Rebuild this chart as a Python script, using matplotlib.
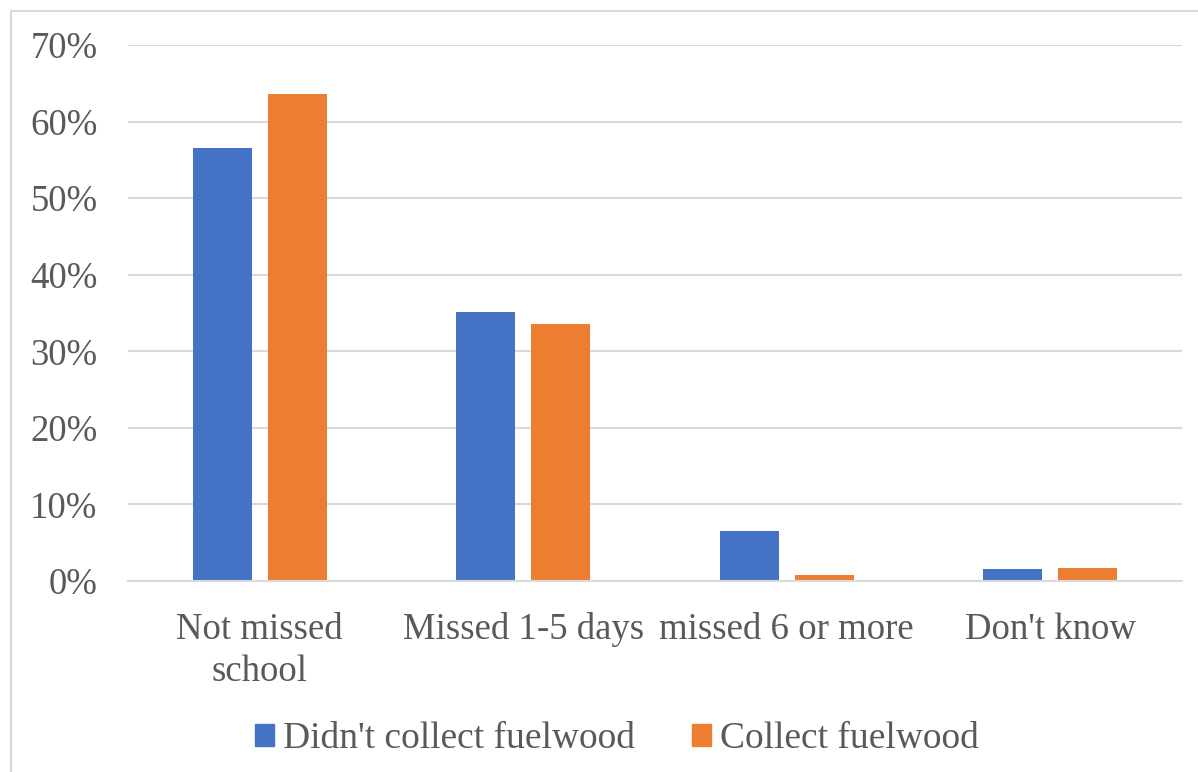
import matplotlib
matplotlib.use("Agg")
import matplotlib.pyplot as plt
import matplotlib.patches as mpatches
import numpy as np

# Data
categories = ["Not missed\nschool", "Missed 1-5 days", "missed 6 or more", "Don't know"]
didnt_collect = [56.5, 35.1, 6.5, 1.57]
collect = [63.6, 33.6, 0.75, 1.7]
series_names = ["Didn't collect fuelwood", "Collect fuelwood"]
yticks = [0, 10, 20, 30, 40, 50, 60, 70]

blue = "#4472C4"
orange = "#ED7D31"
txt = "#595959"
grid = "#D9D9D9"

plt.rcParams["font.family"] = ["Liberation Serif", "DejaVu Serif"]

W, H = 1198, 772
fig = plt.figure(figsize=(W / 100, H / 100), dpi=100)

# light chart frame
fig.patches.append(mpatches.Rectangle((11 / W, -0.1), 1.2, 1 - 11 / H + 0.1,
                                      transform=fig.transFigure, fill=False,
                                      edgecolor=grid, linewidth=1.5))

ax = fig.add_axes([128 / W, (H - 581) / H, 1054 / W, 536 / H])

x = np.arange(len(categories))
bw = 0.224
off = 0.142
ax.bar(x - off, didnt_collect, bw, color=blue, zorder=3)
ax.bar(x + off, collect, bw, color=orange, zorder=3)

ax.set_xlim(-0.5, len(categories) - 0.5)
ax.set_ylim(0, 70)
ax.set_yticks(yticks)
ax.set_yticklabels([f"{v}%" for v in yticks])
ax.set_xticks(x)
ax.set_xticklabels(categories, linespacing=1.3)

ax.yaxis.grid(True, color=grid, linewidth=1.5, zorder=0)
ax.set_axisbelow(True)
for s in ["top", "right", "left"]:
    ax.spines[s].set_visible(False)
ax.spines["bottom"].set_color(grid)
ax.spines["bottom"].set_linewidth(1.5)
ax.spines["bottom"].set_zorder(4)

ax.tick_params(axis="y", length=0, pad=22, labelsize=26.5, labelcolor=txt)
ax.tick_params(axis="x", length=0, pad=22.5, labelsize=26.5, labelcolor=txt)

handles = [mpatches.Patch(color=blue, label=series_names[0]),
           mpatches.Patch(color=orange, label=series_names[1])]
fig.legend(handles=handles, loc="center", bbox_to_anchor=(617 / W, 1 - 739 / H),
           ncol=2, frameon=False, fontsize=27, labelcolor=txt,
           handlelength=0.51, handleheight=0.51, handletextpad=0.24,
           columnspacing=1.5, borderpad=0)

fig.savefig("out.png", dpi=100)
